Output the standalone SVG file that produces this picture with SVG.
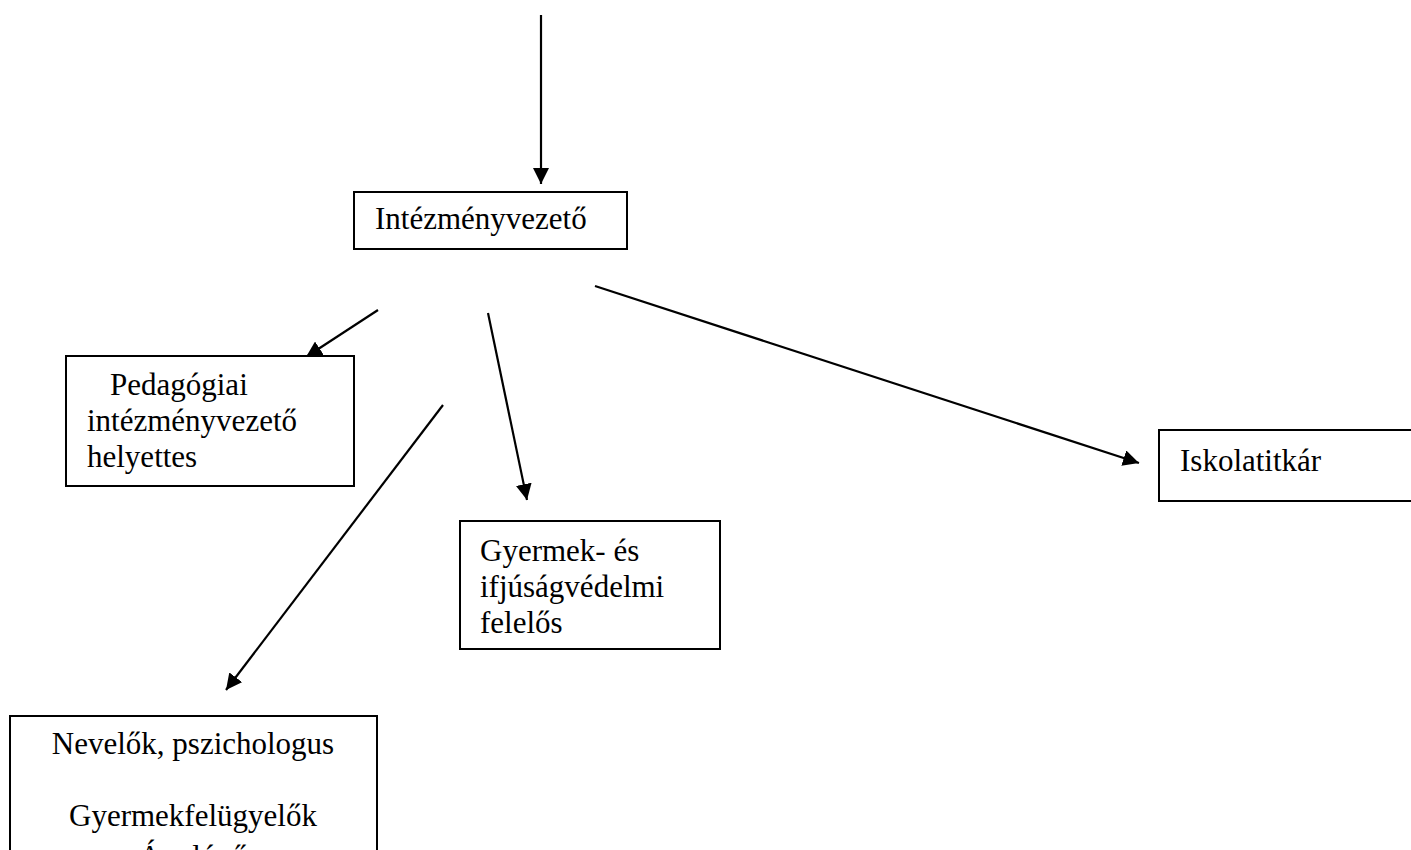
<svg xmlns="http://www.w3.org/2000/svg" width="1411" height="850" viewBox="0 0 1411 850">
<style>
.box{fill:#fff;stroke:#000;stroke-width:2}
.t{font-family:"Liberation Serif","Times New Roman",serif;font-size:31px;fill:#000}
.c{stroke:#000;stroke-width:2.2;fill:none;marker-end:url(#ah)}
</style>
<defs>
<marker id="ah" viewBox="0 0 16 16" markerWidth="16" markerHeight="16" refX="16" refY="8" orient="auto" markerUnits="userSpaceOnUse">
<path d="M0,0 L16,8 L0,16 Z" fill="#000"/>
</marker>
</defs>
<rect width="1411" height="850" fill="#fff"/>
<g id="connectors">
<line class="c" x1="541" y1="15" x2="541" y2="184"/>
<line class="c" x1="378" y1="310" x2="306" y2="357"/>
<line class="c" x1="488" y1="313" x2="527" y2="500"/>
<line class="c" x1="595" y1="286" x2="1139" y2="463"/>
<line class="c" x1="443" y1="405" x2="226" y2="690"/>
</g>
<g id="intezmenyvezeto">
<rect class="box" x="354" y="192" width="273" height="57"/>
<text class="t" x="375" y="229">Intézményvezető</text>
</g>
<g id="pedagogiai">
<rect class="box" x="66" y="356" width="288" height="130"/>
<text class="t" x="110" y="395">Pedagógiai</text>
<text class="t" x="87" y="431">intézményvezető</text>
<text class="t" x="87" y="467">helyettes</text>
</g>
<g id="gyermekvedelmi">
<rect class="box" x="460" y="521" width="260" height="128"/>
<text class="t" x="480" y="561">Gyermek- és</text>
<text class="t" x="480" y="597">ifjúságvédelmi</text>
<text class="t" x="480" y="633">felelős</text>
</g>
<g id="iskolatitkar">
<rect class="box" x="1159" y="430" width="260" height="71"/>
<text class="t" x="1180" y="471">Iskolatitkár</text>
</g>
<g id="nevelok">
<rect class="box" x="10" y="716" width="367" height="160"/>
<text class="t" x="193" y="754" text-anchor="middle">Nevelők, pszichologus</text>
<text class="t" x="193" y="826" text-anchor="middle">Gyermekfelügyelők</text>
<text class="t" x="193" y="867" text-anchor="middle">Ápolónő</text>
</g>
</svg>
